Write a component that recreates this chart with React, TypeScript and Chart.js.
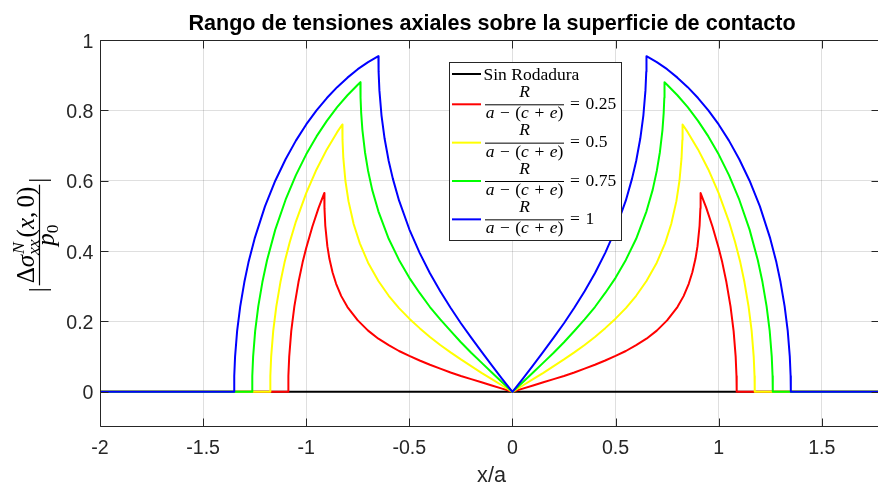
import { useEffect, useRef } from 'react';
import { Chart, registerables } from 'chart.js';

Chart.register(...registerables);

// Half profiles (x/a >= 0) of |Δσxx(x,0)| / p0; every curve is symmetric about x = 0.
const redX = [0, 0.05, 0.1, 0.15, 0.2, 0.25, 0.3, 0.35, 0.4, 0.45, 0.5, 0.55, 0.6, 0.65, 0.7, 0.75, 0.8, 0.83, 0.855, 0.8725, 0.8875, 0.8975, 0.9075, 0.9115, 0.9125, 0.94, 0.97, 1.0, 1.0175, 1.0375, 1.0575, 1.0725, 1.0825, 1.0865, 1.0875];
const redY = [0, 0.009, 0.018, 0.027, 0.036, 0.045, 0.055, 0.066, 0.077, 0.089, 0.102, 0.116, 0.133, 0.151, 0.174, 0.203, 0.241, 0.272, 0.307, 0.34, 0.378, 0.414, 0.472, 0.522, 0.565, 0.523, 0.47, 0.409, 0.368, 0.312, 0.243, 0.173, 0.1, 0.045, 0];

const yellowX = [0, 0.05, 0.1, 0.15, 0.2, 0.25, 0.3, 0.35, 0.4, 0.45, 0.5, 0.55, 0.6, 0.65, 0.7, 0.74, 0.77, 0.795, 0.81, 0.82, 0.824, 0.825, 0.85, 0.9, 0.95, 1.0, 1.05, 1.08, 1.105, 1.125, 1.145, 1.16, 1.17, 1.174, 1.175];
const yellowY = [0, 0.018, 0.036, 0.054, 0.073, 0.092, 0.112, 0.133, 0.156, 0.181, 0.208, 0.238, 0.273, 0.315, 0.367, 0.422, 0.477, 0.542, 0.6, 0.664, 0.716, 0.76, 0.738, 0.689, 0.632, 0.565, 0.484, 0.425, 0.368, 0.312, 0.243, 0.173, 0.1, 0.045, 0];

const greenX = [0, 0.05, 0.1, 0.15, 0.2, 0.25, 0.3, 0.35, 0.4, 0.45, 0.5, 0.55, 0.6, 0.65, 0.68, 0.7, 0.715, 0.7275, 0.7335, 0.7365, 0.7375, 0.75, 0.8, 0.85, 0.9, 0.95, 1.0, 1.05, 1.1, 1.15, 1.19, 1.2125, 1.2325, 1.2475, 1.2575, 1.2615, 1.2625];
const greenY = [0, 0.027, 0.055, 0.083, 0.111, 0.141, 0.173, 0.206, 0.241, 0.281, 0.324, 0.375, 0.435, 0.513, 0.574, 0.628, 0.681, 0.744, 0.793, 0.836, 0.88, 0.873, 0.843, 0.809, 0.77, 0.726, 0.675, 0.616, 0.546, 0.461, 0.374, 0.312, 0.243, 0.173, 0.1, 0.045, 0];

const blueX = [0, 0.05, 0.1, 0.15, 0.2, 0.25, 0.3, 0.35, 0.4, 0.45, 0.5, 0.55, 0.58, 0.6, 0.62, 0.635, 0.645, 0.649, 0.65, 0.7, 0.75, 0.8, 0.85, 0.9, 0.95, 1.0, 1.05, 1.1, 1.15, 1.2, 1.25, 1.28, 1.3, 1.32, 1.335, 1.345, 1.349, 1.35];
const blueY = [0, 0.037, 0.075, 0.114, 0.154, 0.195, 0.239, 0.286, 0.337, 0.395, 0.462, 0.544, 0.606, 0.656, 0.72, 0.786, 0.856, 0.91, 0.954, 0.937, 0.917, 0.893, 0.866, 0.835, 0.8, 0.76, 0.714, 0.661, 0.6, 0.527, 0.436, 0.368, 0.312, 0.243, 0.173, 0.1, 0.045, 0];

// Domain of the computed curves and visible axis limits
const DATA_X_START = -2;
const DATA_X_END = 2;
const X_MIN = -2;
const X_MAX = 1.78;
const Y_MIN = -0.1;
const Y_MAX = 1;
const X_STEP = 0.5;
const Y_STEP = 0.2;

const BASE_LABEL = 'Sin Rodadura';
const RATIO_LABELS = ['0.25', '0.5', '0.75', '1'];
const TITLE = 'Rango de tensiones axiales sobre la superficie de contacto';
const X_TITLE = 'x/a';

const SANS = '"Liberation Sans", Arial, Helvetica, sans-serif';
const SERIF = '"Liberation Serif", "Times New Roman", serif';
const AXIS_COLOR = '#262626';

const CANVAS_W = 884;
const CANVAS_H = 482;
const AREA = { left: 100, top: 40, right: 879.5, bottom: 427 };

function mirrored(hx: number[], hy: number[]) {
  const pts: { x: number; y: number }[] = [{ x: DATA_X_START, y: 0 }];
  for (let i = hx.length - 1; i > 0; i--) pts.push({ x: -hx[i], y: hy[i] });
  for (let i = 0; i < hx.length; i++) pts.push({ x: hx[i], y: hy[i] });
  pts.push({ x: DATA_X_END, y: 0 });
  return pts;
}

const SERIES = [
  { label: RATIO_LABELS[0], color: '#ff0000', x: redX, y: redY, order: 4 },
  { label: RATIO_LABELS[1], color: '#ffff00', x: yellowX, y: yellowY, order: 3 },
  { label: RATIO_LABELS[2], color: '#00ff00', x: greenX, y: greenY, order: 2 },
  { label: RATIO_LABELS[3], color: '#0000ff', x: blueX, y: blueY, order: 1 },
];

function fmt(v: number) {
  return String(Number(v.toFixed(2)));
}

type Piece = { t: string; f: string; dx?: number; dy?: number };

function piecesWidth(ctx: CanvasRenderingContext2D, ps: Piece[]) {
  let w = 0;
  for (const p of ps) {
    ctx.font = p.f;
    w += (p.dx || 0) + ctx.measureText(p.t).width;
  }
  return w;
}

function drawPieces(ctx: CanvasRenderingContext2D, ps: Piece[], x: number, y: number) {
  let cx = x;
  for (const p of ps) {
    ctx.font = p.f;
    cx += p.dx || 0;
    ctx.fillText(p.t, cx, y + (p.dy || 0));
    cx += ctx.measureText(p.t).width;
  }
}

function drawYTitle(ctx: CanvasRenderingContext2D) {
  const fs = 25;
  const ss = 17.5;
  const rm = `${fs}px ${SERIF}`;
  const it = `italic ${fs}px ${SERIF}`;
  const sit = `italic ${ss}px ${SERIF}`;
  const srm = `${ss}px ${SERIF}`;
  ctx.save();
  ctx.translate(39.5, (AREA.top + AREA.bottom) / 2 + 1.5);
  ctx.rotate(-Math.PI / 2);
  ctx.fillStyle = '#000';
  ctx.textAlign = 'left';
  ctx.textBaseline = 'alphabetic';

  // numerator: Δσ^N_xx(x, 0)
  const head: Piece[] = [{ t: 'Δ', f: rm }, { t: 'σ', f: it }];
  const tail: Piece[] = [
    { t: '(', f: rm, dx: 1 },
    { t: 'x', f: it },
    { t: ',', f: rm },
    { t: '0', f: rm, dx: fs * 0.17 },
    { t: ')', f: rm },
  ];
  ctx.font = sit;
  const scriptW = Math.max(ctx.measureText('N').width, ctx.measureText('xx').width) + 1;
  const headW = piecesWidth(ctx, head);
  const tailW = piecesWidth(ctx, tail);
  const numW = headW + scriptW + tailW;
  const numBase = -6;
  let x0 = -numW / 2;
  drawPieces(ctx, head, x0, numBase);
  ctx.font = sit;
  ctx.fillText('N', x0 + headW + 1, numBase - 10);
  ctx.fillText('xx', x0 + headW, numBase + 5);
  drawPieces(ctx, tail, x0 + headW + scriptW, numBase);

  // fraction bar
  const barW = numW + 4;
  ctx.strokeStyle = '#000';
  ctx.lineWidth = 1.2;
  ctx.beginPath();
  ctx.moveTo(-barW / 2, 0);
  ctx.lineTo(barW / 2, 0);
  ctx.stroke();

  // denominator: p_0
  const den: Piece[] = [{ t: 'p', f: it }, { t: '0', f: srm, dy: 4 }];
  const denW = piecesWidth(ctx, den);
  drawPieces(ctx, den, -denW / 2, 14);

  // absolute value bars
  ctx.font = rm;
  const vw = ctx.measureText('|').width;
  ctx.fillText('|', -barW / 2 - 2 - vw, 6);
  ctx.fillText('|', barW / 2 + 2, 6);
  ctx.restore();
}

function drawLegend(ctx: CanvasRenderingContext2D) {
  const bx = 449.5, by = 62.5, bw = 172, bh = 178;
  ctx.save();
  ctx.fillStyle = '#fff';
  ctx.fillRect(bx, by, bw, bh);
  ctx.strokeStyle = AXIS_COLOR;
  ctx.lineWidth = 1;
  ctx.strokeRect(bx, by, bw, bh);

  const lineX0 = 452, lineX1 = 481;
  const fs = 17.5;
  const rm = `${fs}px ${SERIF}`;
  const it = `italic ${fs}px ${SERIF}`;
  ctx.textBaseline = 'alphabetic';
  ctx.textAlign = 'left';

  // first entry
  const y0 = 74;
  ctx.strokeStyle = '#000';
  ctx.lineWidth = 2;
  ctx.beginPath();
  ctx.moveTo(lineX0, y0);
  ctx.lineTo(lineX1, y0);
  ctx.stroke();
  ctx.fillStyle = '#000';
  ctx.font = rm;
  ctx.fillText(BASE_LABEL, 483.5, y0 + 5.5);

  const fracL = 485, fracR = 564;
  const fracC = (fracL + fracR) / 2;
  const op = 5.5;
  const den: Piece[] = [
    { t: 'a', f: it },
    { t: '\u2212', f: rm, dx: op },
    { t: '(', f: rm, dx: op },
    { t: 'c', f: it },
    { t: '+', f: rm, dx: op },
    { t: 'e', f: it, dx: op },
    { t: ')', f: rm },
  ];
  SERIES.forEach((s, i) => {
    const yc = 104.3 + i * 38.35;
    ctx.strokeStyle = s.color;
    ctx.lineWidth = 2;
    ctx.beginPath();
    ctx.moveTo(lineX0, yc);
    ctx.lineTo(lineX1, yc);
    ctx.stroke();

    ctx.fillStyle = '#000';
    ctx.font = it;
    const rw = ctx.measureText('R').width;
    ctx.fillText('R', fracC - rw / 2, yc - 7.5);

    ctx.strokeStyle = '#000';
    ctx.lineWidth = 1;
    ctx.beginPath();
    ctx.moveTo(fracL, yc + 0.5);
    ctx.lineTo(fracR, yc + 0.5);
    ctx.stroke();

    const dw = piecesWidth(ctx, den);
    drawPieces(ctx, den, fracC - dw / 2, yc + 14);

    ctx.font = rm;
    ctx.fillText('=', 570, yc + 4.5);
    ctx.fillText(s.label, 585.5, yc + 4.5);
  });
  ctx.restore();
}

const decorations = {
  id: 'axesDecor',
  afterDraw(chart: any) {
    const { ctx, chartArea: a, scales } = chart;
    const xs = scales.x;
    const ys = scales.y;
    ctx.save();

    // box and inward tick marks on all four sides
    ctx.strokeStyle = AXIS_COLOR;
    ctx.lineWidth = 1;
    const L = Math.round(a.left) + 0.5;
    const T = Math.round(a.top) + 0.5;
    const B = Math.round(a.bottom) - 0.5;
    const R = Math.round(a.right) - 0.5;
    ctx.beginPath();
    ctx.moveTo(L, T);
    ctx.lineTo(R, T);
    ctx.moveTo(L, B);
    ctx.lineTo(R, B);
    ctx.moveTo(L, T);
    ctx.lineTo(L, B);
    ctx.moveTo(R, T);
    ctx.lineTo(R, B);
    const tl = 8;
    for (const t of xs.ticks) {
      const px = Math.round(xs.getPixelForValue(t.value)) + 0.5;
      ctx.moveTo(px, B);
      ctx.lineTo(px, B - tl);
      ctx.moveTo(px, T);
      ctx.lineTo(px, T + tl);
    }
    for (const t of ys.ticks) {
      const py = Math.round(ys.getPixelForValue(t.value)) + 0.5;
      ctx.moveTo(L, py);
      ctx.lineTo(L + tl, py);
      ctx.moveTo(R, py);
      ctx.lineTo(R - tl, py);
    }
    ctx.stroke();

    // tick labels
    ctx.fillStyle = AXIS_COLOR;
    ctx.font = `19.6px ${SANS}`;
    ctx.textBaseline = 'alphabetic';
    ctx.textAlign = 'center';
    for (const t of xs.ticks) {
      ctx.fillText(fmt(t.value), xs.getPixelForValue(t.value), 454);
    }
    ctx.textAlign = 'right';
    for (const t of ys.ticks) {
      ctx.fillText(fmt(t.value), 93.5, ys.getPixelForValue(t.value) + 7.5);
    }

    // x axis title
    ctx.textAlign = 'center';
    ctx.font = `21.6px ${SANS}`;
    ctx.fillText(X_TITLE, 491.5, 481.5);

    // chart title
    ctx.fillStyle = '#000';
    ctx.font = `bold 21.6px ${SANS}`;
    ctx.fillText(TITLE, 492, 30);
    ctx.restore();

    drawYTitle(ctx);
    drawLegend(ctx);
  },
};

export default function App() {
  const ref = useRef<HTMLCanvasElement>(null);

  useEffect(() => {
    const canvas = ref.current;
    if (!canvas) return;
    const datasets: any[] = [
      {
        label: BASE_LABEL,
        data: [
          { x: DATA_X_START, y: 0 },
          { x: DATA_X_END, y: 0 },
        ],
        borderColor: '#000000',
        order: 5,
      },
      ...SERIES.map((s) => ({
        label: s.label,
        data: mirrored(s.x, s.y),
        borderColor: s.color,
        order: s.order,
      })),
    ];
    const gridColor = 'rgba(38,38,38,0.15)';
    const chart = new Chart(canvas, {
      type: 'line',
      data: { datasets },
      options: {
        animation: false,
        responsive: false,
        maintainAspectRatio: false,
        devicePixelRatio: 1,
        events: [],
        layout: {
          padding: { left: 0, top: AREA.top, right: CANVAS_W - AREA.right, bottom: 0 },
        },
        elements: {
          point: { radius: 0 },
          line: { borderWidth: 2, tension: 0, borderJoinStyle: 'round', borderCapStyle: 'round', fill: false },
        },
        plugins: {
          legend: { display: false },
          tooltip: { enabled: false },
          title: { display: false },
        },
        scales: {
          x: {
            type: 'linear',
            position: 'bottom',
            min: X_MIN,
            max: X_MAX,
            ticks: { display: false, stepSize: X_STEP, includeBounds: false },
            grid: { color: gridColor, lineWidth: 1, drawTicks: false },
            border: { display: false },
            afterFit: (s: any) => {
              s.height = CANVAS_H - AREA.bottom;
            },
          },
          y: {
            type: 'linear',
            position: 'left',
            min: Y_MIN,
            max: Y_MAX,
            ticks: { display: false, stepSize: Y_STEP, includeBounds: false },
            grid: { color: gridColor, lineWidth: 1, drawTicks: false },
            border: { display: false },
            afterFit: (s: any) => {
              s.width = AREA.left;
            },
          },
        },
      } as any,
      plugins: [decorations],
    });
    return () => chart.destroy();
  }, []);

  return (
    <div
      style={{
        position: 'fixed',
        left: 0,
        top: 0,
        width: 878,
        height: 482,
        overflow: 'hidden',
        background: '#ffffff',
      }}
    >
      <canvas ref={ref} width={CANVAS_W} height={CANVAS_H} style={{ display: 'block', width: CANVAS_W, height: CANVAS_H }} />
    </div>
  );
}
